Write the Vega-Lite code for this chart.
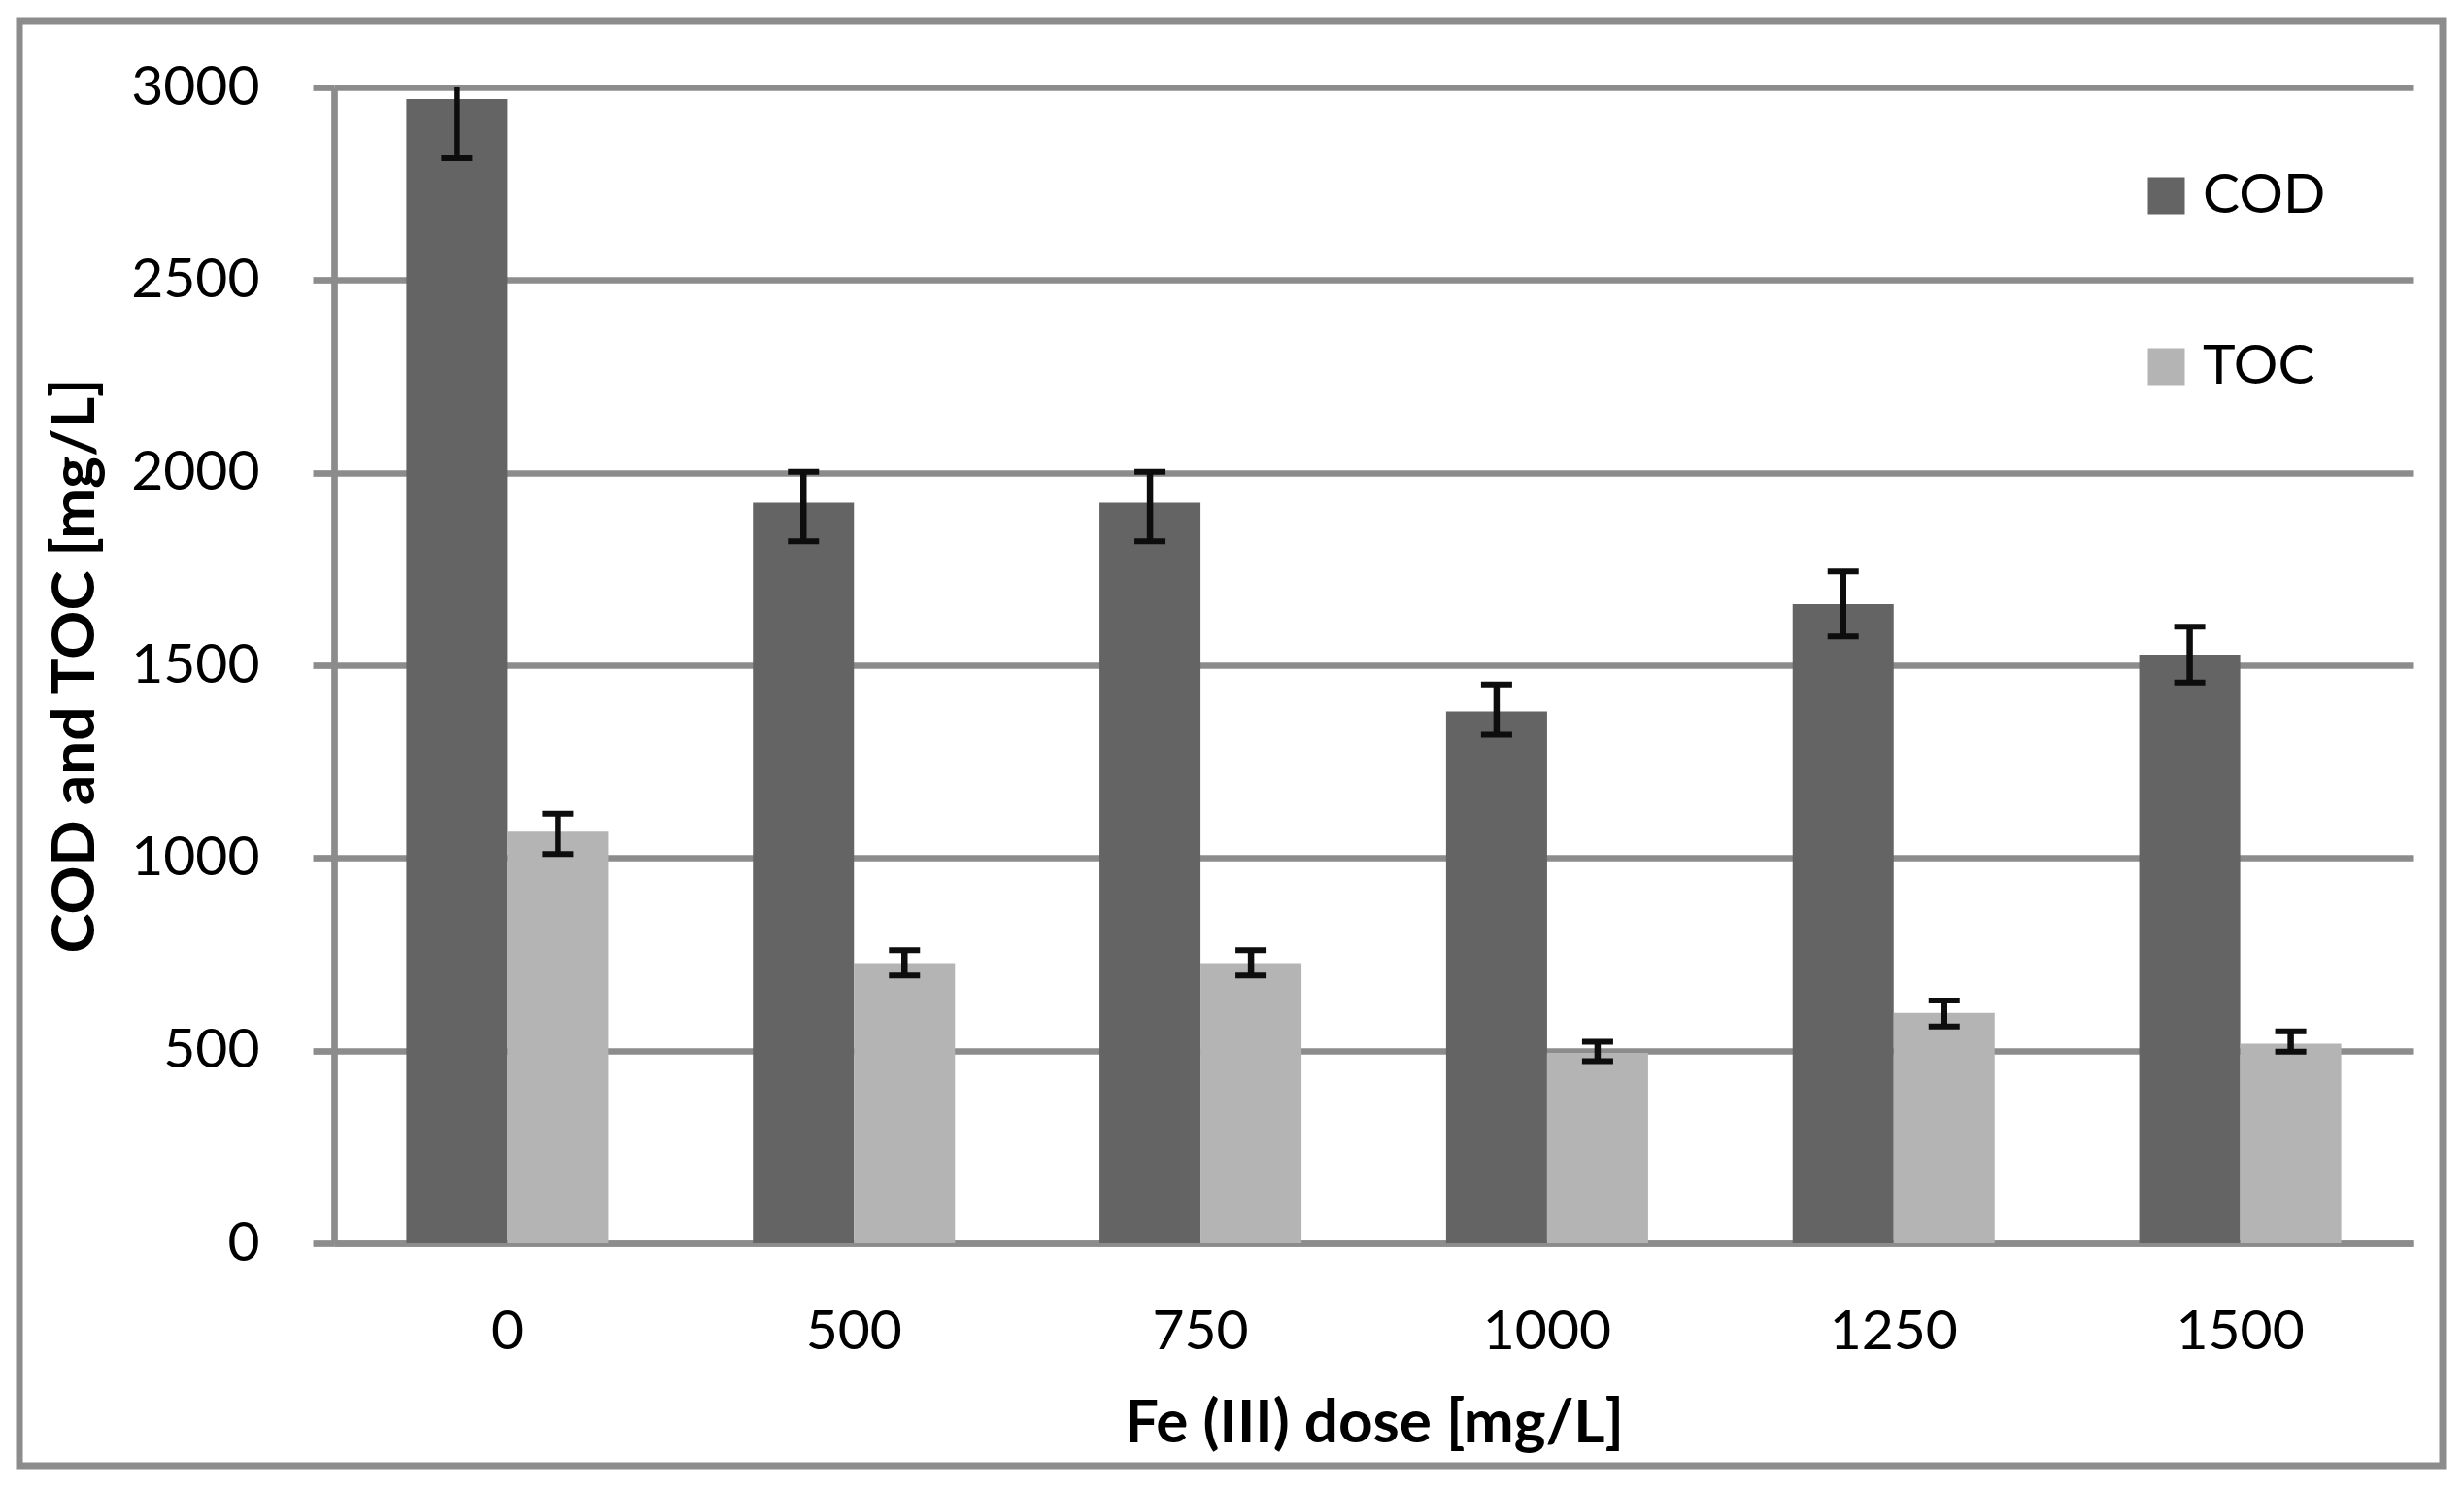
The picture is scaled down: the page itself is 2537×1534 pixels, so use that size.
{
  "$schema": "https://vega.github.io/schema/vega-lite/v6.json",
  "width": 2495,
  "height": 1487,
  "autosize": {"type": "none"},
  "padding": {"left": 20, "top": 22, "right": 22, "bottom": 25},
  "background": "white",
  "config": {
    "font": "Lato",
    "view": {"stroke": "#8c8c8c", "strokeWidth": 7},
    "axis": {
      "labelFont": "Lato",
      "titleFont": "Lato",
      "labelColor": "black",
      "titleColor": "black",
      "labelFontSize": 57,
      "titleFontSize": 62,
      "titleFontWeight": "bold",
      "domainColor": "#8c8c8c",
      "domainWidth": 6.7,
      "tickColor": "#8c8c8c",
      "tickWidth": 6.7,
      "gridColor": "#8c8c8c",
      "gridWidth": 6.7
    },
    "axisX": {
      "offset": -229,
      "ticks": false,
      "tickSize": 0,
      "labelAngle": 0,
      "labelPadding": 63,
      "titlePadding": 36,
      "grid": false
    }
  },
  "data": {
    "values": [
      {"dose": "0", "param": "COD", "value": 2970, "lo": 2816, "hi": 3124},
      {"dose": "0", "param": "TOC", "value": 1068, "lo": 1010, "hi": 1115},
      {"dose": "500", "param": "COD", "value": 1922, "lo": 1822, "hi": 2002},
      {"dose": "500", "param": "TOC", "value": 727, "lo": 695, "hi": 761},
      {"dose": "750", "param": "COD", "value": 1922, "lo": 1822, "hi": 2002},
      {"dose": "750", "param": "TOC", "value": 727, "lo": 695, "hi": 761},
      {"dose": "1000", "param": "COD", "value": 1380, "lo": 1320, "hi": 1450},
      {"dose": "1000", "param": "TOC", "value": 494, "lo": 473, "hi": 523},
      {"dose": "1250", "param": "COD", "value": 1659, "lo": 1575, "hi": 1744},
      {"dose": "1250", "param": "TOC", "value": 598, "lo": 563, "hi": 630},
      {"dose": "1500", "param": "COD", "value": 1528, "lo": 1455, "hi": 1600},
      {"dose": "1500", "param": "TOC", "value": 518, "lo": 497, "hi": 550}
    ]
  },
  "encoding": {
    "x": {
      "field": "dose",
      "type": "nominal",
      "sort": null,
      "title": "Fe (III) dose [mg/L]",
      "scale": {"range": [324, 2465], "paddingInner": 0.417, "paddingOuter": 0.2085}
    },
    "xOffset": {"field": "param", "type": "nominal", "sort": ["COD", "TOC"]}
  },
  "resolve": {"axis": {"y": "independent"}},
  "layer": [
    {
      "mark": {"type": "bar"},
      "encoding": {
        "y": {
          "field": "value",
          "type": "quantitative",
          "title": "COD and TOC [mg/L]",
          "scale": {"domain": [0, 3000], "range": [1258, 68], "clamp": true, "nice": false, "zero": true},
          "axis": {
            "orient": "left",
            "offset": -324,
            "grid": false,
            "tickSize": 22,
            "labelPadding": 55,
            "titlePadding": 35,
            "format": "d",
            "values": [0, 500, 1000, 1500, 2000, 2500, 3000]
          }
        },
        "color": {
          "field": "param",
          "type": "nominal",
          "scale": {"domain": ["COD", "TOC"], "range": ["#646464", "#b4b4b4"]},
          "legend": {
            "orient": "none",
            "legendX": 2182,
            "legendY": 151,
            "title": null,
            "padding": 0,
            "symbolType": "square",
            "symbolSize": 1444,
            "symbolStrokeWidth": 0,
            "labelFontSize": 57,
            "labelFont": "Lato",
            "labelColor": "black",
            "labelOffset": 9,
            "rowPadding": 118
          }
        }
      }
    },
    {
      "mark": {"type": "rule", "color": "#0d0d0d", "strokeWidth": 6.5},
      "encoding": {
        "y": {
          "field": "lo",
          "type": "quantitative",
          "axis": {
            "orient": "left",
            "offset": 0,
            "grid": true,
            "labels": false,
            "ticks": false,
            "domain": false,
            "title": null,
            "values": [0, 500, 1000, 1500, 2000, 2500, 3000]
          }
        },
        "y2": {"field": "hi"}
      }
    },
    {
      "mark": {"type": "tick", "color": "#0d0d0d", "size": 32, "thickness": 6, "opacity": 1},
      "encoding": {
        "y": {"field": "lo", "type": "quantitative", "axis": null}
      }
    },
    {
      "transform": [{"filter": "datum.hi <= 3000"}],
      "mark": {"type": "tick", "color": "#0d0d0d", "size": 32, "thickness": 6, "opacity": 1},
      "encoding": {
        "y": {"field": "hi", "type": "quantitative", "axis": null}
      }
    }
  ]
}
